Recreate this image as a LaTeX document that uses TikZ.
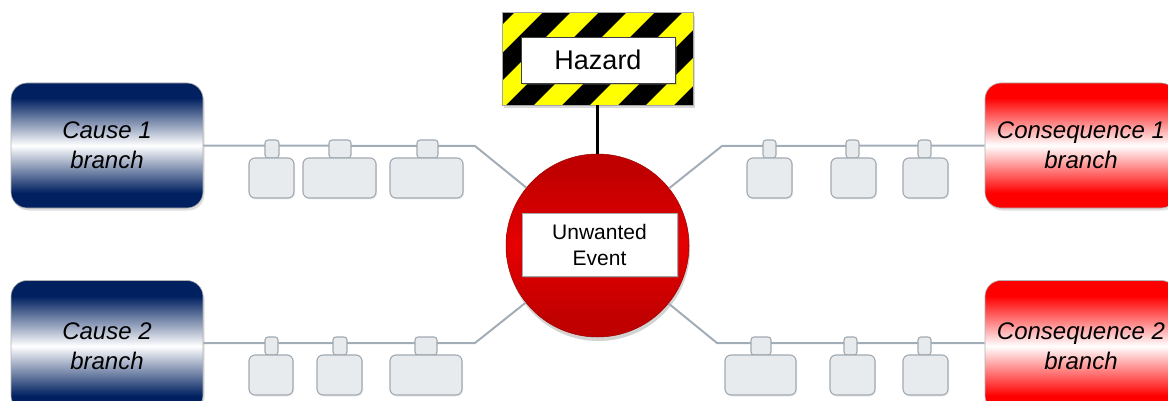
\documentclass[tikz,border=0pt]{standalone}
\usepackage{fontspec}
\setmainfont{Liberation Sans}
\usetikzlibrary{shadows}

\definecolor{causeblue}{HTML}{002060}
\definecolor{conred}{HTML}{FF0000}
\definecolor{uedark}{HTML}{C00000}
\definecolor{uemid}{HTML}{E60000}
\definecolor{hazyellow}{HTML}{FFFF00}
\definecolor{linegray}{HTML}{A3ADB7}
\definecolor{barfill}{HTML}{E8EBEE}
\definecolor{barline}{HTML}{A0A9B2}

% vertical gradients: dark at top and bottom, light band in the middle
\pgfdeclareverticalshading{causeshade}{100bp}{color(0bp)=(causeblue); color(31bp)=(causeblue); color(50bp)=(white); color(69bp)=(causeblue); color(100bp)=(causeblue)}
\pgfdeclareverticalshading{conshade}{100bp}{color(0bp)=(conred); color(31bp)=(conred); color(50bp)=(white); color(69bp)=(conred); color(100bp)=(conred)}
\pgfdeclareverticalshading{ueshade}{100bp}{color(0bp)=(uedark); color(30bp)=(uedark); color(50bp)=(uemid); color(70bp)=(uedark); color(100bp)=(uedark)}

\tikzset{
  softshadow/.style={drop shadow={opacity=0.25, shadow xshift=1.5pt, shadow yshift=-2.5pt}},
  branchbox/.style={rounded corners=16pt, minimum width=192,
    draw=gray!60, line width=0.6pt, softshadow, align=center,
    font=\fontsize{24}{30}\selectfont\itshape},
  causebox/.style={branchbox, shade, shading=causeshade},
  conbox/.style={branchbox, shade, shading=conshade},
  conn/.style={draw=linegray, line width=2pt},
  tabbox/.style={draw=barline, fill=barfill, line width=1.1pt, rounded corners=3pt,
    minimum height=18, inner sep=0pt},
  bodybox/.style={draw=barline, fill=barfill, line width=1.1pt, rounded corners=6pt,
    minimum height=40, inner sep=0pt, drop shadow={opacity=0.15, shadow xshift=1pt, shadow yshift=-1.5pt}},
  labelbox/.style={draw=gray!70, fill=white, line width=0.6pt, inner sep=0pt, align=center,
    drop shadow={opacity=0.3, shadow xshift=1.5pt, shadow yshift=-2pt}},
}

% a barrier on a branch line: name, tab centre x, tab width, body left x, body right x, line y
\newcommand\barrierpair[6]{%
  \node[tabbox, minimum width=#3] (#1t) at (#2, {#6+3}) {};
  \node[bodybox, minimum width={#5-#4}] (#1) at ({(#4+#5)/2}, {#6+32}) {};
}

\begin{document}
\begin{tikzpicture}[x=1pt, y=-1pt]
\useasboundingbox (0,0) rectangle (1168,401);
\clip (0,0) rectangle (1168,401);

% branch end boxes
\node[causebox, minimum height=125] (c1) at (107,145.5) {Cause 1\\branch};
\node[causebox, minimum height=131] (c2) at (107,346) {Cause 2\\branch};
\node[conbox, minimum height=125] (q1) at (1081,145.5) {Consequence 1\\branch};
\node[conbox, minimum height=131] (q2) at (1081,346) {Consequence 2\\branch};

% central event
\node[circle, minimum size=183, inner sep=0pt, shade, shading=ueshade, draw=uedark!80!black, line width=0.5pt,
      drop shadow={opacity=0.35, shadow xshift=1pt, shadow yshift=-4pt}] (ue) at (597.5,245.5) {};
\node[labelbox, minimum width=155, minimum height=63, font=\fontsize{21}{26}\selectfont] (uel) at (599.5,244.5) {Unwanted\\Event};

% hazard sign with warning stripes
\node[fill=black, minimum width=191, minimum height=92, inner sep=0pt,
      drop shadow={opacity=0.3, shadow xshift=1.5pt, shadow yshift=-3pt}] (hz) at (597.5,59) {};
\begin{scope}
  \clip (hz.south west) rectangle (hz.north east);
  \foreach \k in {-2,...,4}
    \fill[hazyellow] ({514+56*\k},13) -- ++(28,0) -- ++(-110,110) -- ++(-28,0) -- cycle;
\end{scope}
\draw[gray!70, line width=0.6pt] (hz.south west) rectangle (hz.north east);
\node[labelbox, draw=black!75, minimum width=154, minimum height=46, font=\fontsize{27}{30}\selectfont] (hzl) at (598,60) {Hazard};

\draw[line width=3pt, black] (hz.south) -- (ue.north);

% branch lines
\coordinate (k1) at (475,146);
\coordinate (k2) at (475,343);
\coordinate (k3) at (722,146);
\coordinate (k4) at (717,343);
\draw[conn] (c1.east) -- (k1) -- (ue);
\draw[conn] (c2.east |- k2) -- (k2) -- (ue);
\draw[conn] (q1.west) -- (k3) -- (ue);
\draw[conn] (q2.west |- k4) -- (k4) -- (ue);

% barriers on each branch
\barrierpair{a1}{272}{14}{249}{294}{146}
\barrierpair{a2}{340}{22}{303}{376}{146}
\barrierpair{a3}{427.5}{21}{390}{463}{146}
\barrierpair{b1}{271.5}{13}{249}{293}{343}
\barrierpair{b2}{340}{14}{317}{362}{343}
\barrierpair{b3}{426}{22}{390}{462}{343}
\barrierpair{d1}{769.5}{13}{747}{792}{146}
\barrierpair{d2}{852.5}{13}{831}{876}{146}
\barrierpair{d3}{924.5}{13}{903}{948}{146}
\barrierpair{e1}{761}{20}{725}{796}{343}
\barrierpair{e2}{850.5}{13}{830}{875}{343}
\barrierpair{e3}{924.5}{13}{903}{948}{343}
\end{tikzpicture}
\end{document}
